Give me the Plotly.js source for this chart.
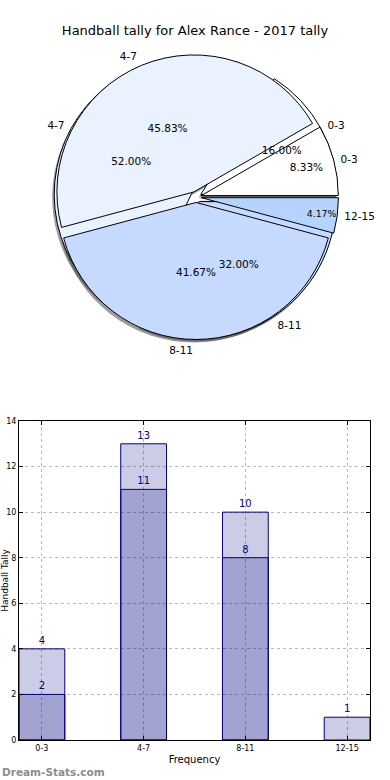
<!DOCTYPE html>
<html><head><meta charset="utf-8">
<script src="https://cdn.plot.ly/plotly-3.0.1.min.js"></script>
<style>html,body{margin:0;padding:0;background:#fff}#chart{width:390px;height:780px}</style>
</head><body><div id="chart"></div>
<script>
// ---- data ----
const categories = ['0-3', '4-7', '8-11', '12-15'];
const labelsA = ['0-3', '4-7', '8-11'];
const valuesA = [4, 13, 8];
const labelsB = ['0-3', '4-7', '8-11', '12-15'];
const valuesB = [2, 11, 10, 1];
const yTickVals = [0, 2, 4, 6, 8, 10, 12, 14];
const titleText = 'Handball tally for Alex Rance - 2017 tally';
const xTitle = 'Frequency';
const yTitle = 'Handball Tally';
const watermark = 'Dream-Stats.com';

// ---- styling ----
const W = 390, H = 780;
const sliceColor = {'0-3': '#ffffff', '4-7': '#eaf1ff', '8-11': '#c6daff', '12-15': '#b4d4ff'};
const pullAmt = 0.04;
const cx = 196, cy = 197, R = 137;
function dom(half, dx, dy) {
  return {
    x: [(cx - half + dx) / W, (cx + half + dx) / W],
    y: [(H - cy - half - dy) / H, (H - cy + half - dy) / H]
  };
}
const pieHalf = R * (1 + pullAmt);
const FONT = 'DejaVu Sans, sans-serif';
// first slice starts at 3 o'clock and runs counter-clockwise
function startRot(values) {
  const tot = values.reduce((a, b) => a + b, 0);
  return 90 - 360 * values[0] / tot;
}

function pie(labels, values, extra) {
  return Object.assign({
    type: 'pie', labels: labels, values: values, sort: false,
    direction: 'counterclockwise', rotation: startRot(values),
    pull: labels.map(() => pullAmt), domain: dom(pieHalf, 0, 0),
    showlegend: false, hoverinfo: 'none', textinfo: 'none'
  }, extra);
}
const clear = l => l.map(() => 'rgba(0,0,0,0)');
const pctFont = {family: FONT, size: 10.5, color: '#000'};

const traces = [
  pie(labelsA, valuesA, {domain: dom(pieHalf, -2, 3), marker: {colors: labelsA.map(() => 'rgba(60,60,60,0.5)'), line: {width: 0}}}),
  pie(labelsB, valuesB, {domain: dom(pieHalf, -2, 3), marker: {colors: labelsB.map(() => 'rgba(60,60,60,0.5)'), line: {width: 0}}}),
  pie(labelsA, valuesA, {marker: {colors: labelsA.map(l => sliceColor[l]), line: {color: '#000', width: 1}}}),
  pie(labelsB, valuesB, {marker: {colors: labelsB.map(l => sliceColor[l]), line: {color: '#000', width: 1}}}),
  pie(labelsA, valuesA, {marker: {colors: clear(labelsA), line: {width: 0}}, textposition: 'inside', texttemplate: '%{percent:.2%}', insidetextorientation: 'horizontal', textfont: pctFont}),
  pie(labelsB, valuesB, {marker: {colors: clear(labelsB), line: {width: 0}}, textposition: 'inside', texttemplate: '%{percent:.2%}', insidetextorientation: 'horizontal', textfont: pctFont}),
  pie(labelsA, valuesA, {pull: 0, domain: dom(R * 1.07, 0, 0), marker: {colors: clear(labelsA), line: {width: 0}}, textposition: 'outside', texttemplate: '%{label}', textfont: pctFont}),
  pie(labelsB, valuesB, {pull: 0, domain: dom(R * 1.07, 0, 0), marker: {colors: clear(labelsB), line: {width: 0}}, textposition: 'outside', texttemplate: '%{label}', textfont: pctFont}),
  {type: 'bar', x: labelsA, y: valuesA, width: 0.45, marker: {color: 'rgba(0,0,128,0.2)', line: {color: '#000080', width: 1}},
   text: valuesA.map(String), textposition: 'outside', textfont: {family: FONT, size: 10, color: '#000080'}, cliponaxis: false, showlegend: false, hoverinfo: 'none'},
  {type: 'bar', x: labelsB, y: valuesB, width: 0.45, marker: {color: 'rgba(0,0,128,0.2)', line: {color: '#000080', width: 1}},
   text: valuesB.map(String), textposition: 'outside', textfont: {family: FONT, size: 10, color: '#000080'}, cliponaxis: false, showlegend: false, hoverinfo: 'none'}
];

const layout = {
  width: W, height: H, margin: {l: 0, r: 0, t: 0, b: 0},
  paper_bgcolor: '#fff', plot_bgcolor: '#fff',
  font: {family: FONT, color: '#000'},
  title: {text: titleText, x: 0.5, xanchor: 'center', y: 1 - 30 / H, yanchor: 'middle', font: {family: FONT, size: 13, color: '#000'}},
  barmode: 'overlay', showlegend: false,
  xaxis: {
    domain: [19 / W, 370 / W], type: 'category', categoryorder: 'array', categoryarray: categories,
    range: [-0.225, 3.225], showline: true, linecolor: '#000', linewidth: 1, mirror: 'allticks',
    ticks: 'inside', ticklen: 4, tickcolor: '#000', tickfont: {family: FONT, size: 8, color: '#000'},
    showgrid: true, gridcolor: '#b8b8b8', griddash: 'dot', gridwidth: 1, zeroline: false,
    title: {text: xTitle, standoff: 4, font: {family: FONT, size: 10, color: '#000'}}
  },
  yaxis: {
    domain: [40 / H, 359 / H], range: [0, 14], tickvals: yTickVals,
    showline: true, linecolor: '#000', linewidth: 1, mirror: 'allticks',
    ticks: 'inside', ticklen: 4, tickcolor: '#000', tickfont: {family: FONT, size: 8, color: '#000'},
    showgrid: true, gridcolor: '#b8b8b8', griddash: 'dot', gridwidth: 1, zeroline: false,
    title: {text: yTitle, standoff: 2, font: {family: FONT, size: 9, color: '#000'}}
  },
  annotations: [{
    text: watermark, xref: 'paper', yref: 'paper', x: 0, y: 0, xanchor: 'left', yanchor: 'bottom',
    showarrow: false, font: {family: FONT, size: 10.5, color: '#8c8c8c', weight: 'bold'}
  }]
};

Plotly.newPlot('chart', traces, layout, {staticPlot: true, displayModeBar: false});
</script>
</body></html>
